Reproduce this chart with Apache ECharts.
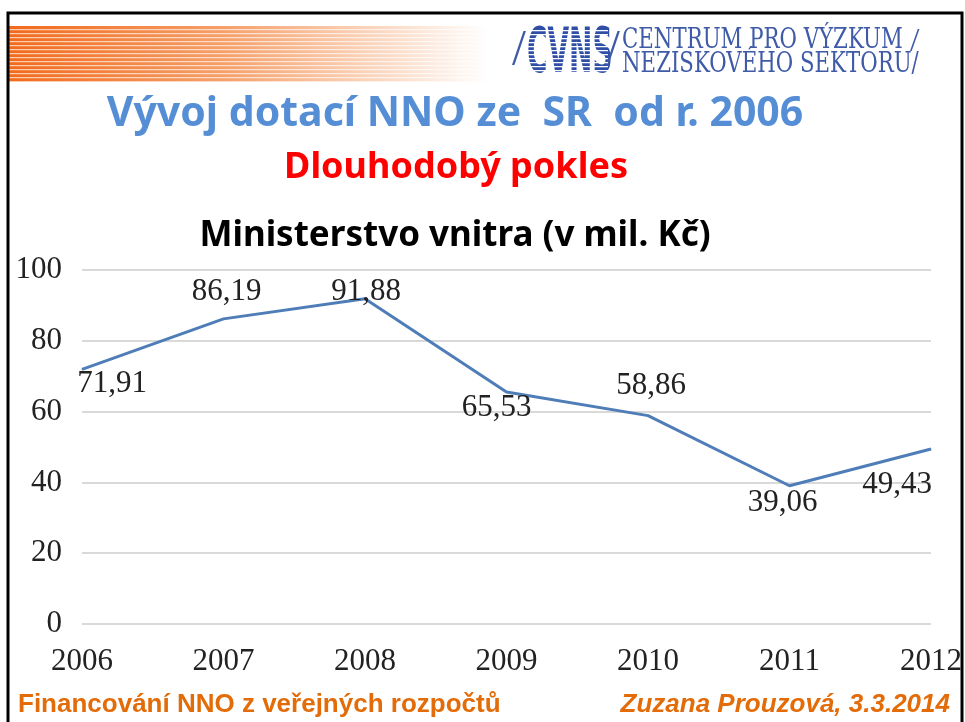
<!DOCTYPE html>
<html>
<head>
<meta charset="utf-8">
<script src="https://cdn.jsdelivr.net/npm/echarts@6/dist/echarts.min.js"></script>
<style>
  html, body { margin: 0; padding: 0; background: #fff; }
  #main { width: 965px; height: 722px; }
</style>
</head>
<body>
<div id="main"></div>
<script>
// data
var years = ['2006', '2007', '2008', '2009', '2010', '2011', '2012'];
var dotace = [71.91, 86.19, 91.88, 65.53, 58.86, 39.06, 49.43];
var yTicks = [0, 20, 40, 60, 80, 100];

(function(){
    var myChart = echarts.init(document.getElementById('main'));

    // label offsets from each point (centred on the point)
    var labelShift = [[30, 14], [3, -27], [1, -7], [-10, 16], [3, -30], [-7, 17], [-34, 36]];
    var lineData = dotace.map(function(v, i){
        return {
            value: v,
            label: {position: 'inside', offset: labelShift[i]}
        };
    });

    var orange = '#E36C09';
    var logoBlue = '#3F5BA8';
    var serif = '"Liberation Serif"';

    // header stripes
    var stripes = [];
    for (var i = 0; i < 14; i++) {
        stripes.push({
            type: 'rect',
            shape: {x: 9, y: 29 + i * 4, width: 480, height: 1.3},
            style: {fill: 'rgba(255,255,255,0.65)'},
            z: 11
        });
    }
    // CVNS stripes
    var logoStripes = [];
    for (var j = 0; j < 12; j++) {
        logoStripes.push({
            type: 'rect',
            shape: {x: 526, y: 30 + j * 4, width: 82, height: 1.2},
            style: {fill: '#fff'},
            z: 12
        });
    }

    var option = {
        animation: false,
        textStyle: {fontFamily: serif},
        grid: {
            left: 82,
            right: 31,
            top: 270,
            bottom: 98
        },
        xAxis: {
            type: 'category',
            data: years,
            boundaryGap: false,
            axisLine: {show: false},
            axisTick: {show: false},
            axisLabel: {
                color: '#222',
                fontSize: 31,
                fontFamily: serif,
                margin: 22
            }
        },
        yAxis: {
            type: 'value',
            min: yTicks[0],
            max: yTicks[yTicks.length - 1],
            interval: 20,
            axisLine: {show: false},
            axisTick: {show: false},
            axisLabel: {
                color: '#222',
                fontSize: 31,
                fontFamily: serif,
                margin: 20
            },
            splitLine: {lineStyle: {color: '#d9d9d9', width: 2}}
        },
        graphic: [
            {
                type: 'rect',
                shape: {x: 9, y: 26, width: 480, height: 56},
                style: {
                    fill: {
                        type: 'linear', x: 0, y: 0, x2: 1, y2: 0,
                        colorStops: [
                            {offset: 0, color: '#F26A1B'},
                            {offset: 0.45, color: '#F5A06A'},
                            {offset: 1, color: '#ffffff'}
                        ]
                    }
                },
                z: 10
            }
        ].concat(stripes).concat([
            {
                type: 'text', x: 512, y: 26,
                style: {text: '/', fill: logoBlue, font: '50px ' + serif},
                z: 11
            },
            {
                type: 'text', x: 527, y: 25, scaleX: 0.45,
                style: {text: 'CVNS', fill: '#2F4FA6', font: 'bold 62px "DejaVu Sans"'},
                z: 11
            }
        ]).concat(logoStripes).concat([
            {
                type: 'text', x: 606, y: 26,
                style: {text: '/', fill: logoBlue, font: '50px ' + serif},
                z: 11
            },
            {
                type: 'text', x: 622, y: 27, scaleX: 0.76,
                style: {text: 'CENTRUM PRO VÝZKUM', fill: logoBlue, font: '28px "DejaVu Serif"'},
                z: 11
            },
            {
                type: 'text', x: 622, y: 51, scaleX: 0.76,
                style: {text: 'NEZISKOVÉHO SEKTORU/', fill: logoBlue, font: '28px "DejaVu Serif"'},
                z: 11
            },
            {
                type: 'text', x: 910, y: 25,
                style: {text: '/', fill: logoBlue, font: '34px ' + serif},
                z: 11
            },
            {
                type: 'text', x: 455, y: 114,
                style: {
                    text: 'Vývoj dotací NNO ze  SR  od r. 2006',
                    fill: '#558ED5',
                    font: 'bold 41px "Noto Sans"',
                    align: 'center', verticalAlign: 'middle'
                }
            },
            {
                type: 'text', x: 456, y: 168,
                style: {
                    text: 'Dlouhodobý pokles',
                    fill: '#FF0000',
                    font: 'bold 36px "Noto Sans"',
                    align: 'center', verticalAlign: 'middle'
                }
            },
            {
                type: 'text', x: 455, y: 236,
                style: {
                    text: 'Ministerstvo vnitra (v mil. Kč)',
                    fill: '#000',
                    font: 'bold 35px "Noto Sans"',
                    align: 'center', verticalAlign: 'middle'
                }
            },
            {
                type: 'text', x: 18, y: 705,
                style: {
                    text: 'Financování NNO z veřejných rozpočtů',
                    fill: orange,
                    font: 'bold 26px "Liberation Sans"',
                    verticalAlign: 'middle'
                }
            },
            {
                type: 'text', x: 950, y: 705,
                style: {
                    text: 'Zuzana Prouzová, 3.3.2014',
                    fill: orange,
                    font: 'italic bold 26px "Liberation Sans"',
                    align: 'right', verticalAlign: 'middle'
                }
            },
            // slide border
            {
                type: 'polyline',
                shape: {points: [[8, 740], [8, 13], [962, 13], [962, 740]]},
                style: {stroke: '#000', lineWidth: 3, fill: null},
                z: 20
            }
        ]),
        series: [
            {
                type: 'line',
                data: lineData,
                showSymbol: true,
                symbol: 'circle',
                symbolSize: 1,
                itemStyle: {color: '#4F7DB8'},
                lineStyle: {color: '#4F7DB8', width: 3},
                label: {
                    show: true,
                    color: '#222',
                    fontSize: 31,
                    fontFamily: serif,
                    formatter: function(p){
                        return p.value.toFixed(2).replace('.', ',');
                    }
                }
            }
        ]
    };
    myChart.setOption(option);
    window.addEventListener('resize', function(){
        myChart.resize();
    });
})();
</script>
</body>
</html>
